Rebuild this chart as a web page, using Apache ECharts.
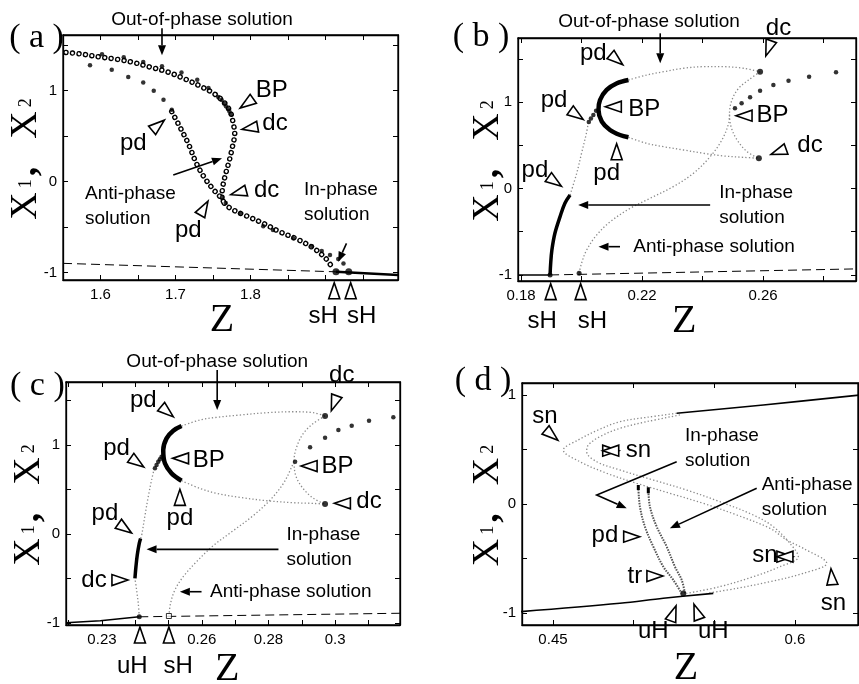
<!DOCTYPE html>
<html>
<head>
<meta charset="utf-8">
<script src="https://cdn.jsdelivr.net/npm/echarts@6.0.0/dist/echarts.min.js"></script>
<style>
html,body{margin:0;padding:0;background:#fff;}
#chart{width:859px;height:684px;}
</style>
</head>
<body>
<div id="chart"></div>
<script>
// ================= DATA (Z , X) =================
// ---- panel (a)
const aOutOfPhaseOpen = [[1.554,1.42],[1.577,1.40],[1.599,1.37],[1.622,1.345],[1.644,1.31],[1.666,1.26],[1.688,1.21],[1.711,1.135],[1.733,1.05],[1.751,0.97],[1.764,0.88],[1.773,0.77],[1.777,0.64],[1.779,0.53],[1.776,0.385],[1.772,0.24],[1.767,0.09],[1.763,-0.055],[1.762,-0.165],[1.766,-0.245],[1.777,-0.31],[1.795,-0.377],[1.817,-0.457],[1.839,-0.55],[1.862,-0.63],[1.884,-0.73],[1.9,-0.84],[1.908,-0.93]];
const aAntiPhaseOpen = [[1.695,0.77],[1.706,0.60],[1.717,0.42],[1.728,0.20],[1.739,0.04],[1.751,-0.09],[1.76,-0.17],[1.766,-0.245]];
const aDotsUpper = [[1.602,1.40],[1.631,1.367],[1.657,1.315],[1.682,1.27],[1.708,1.20],[1.729,1.12],[1.744,1.03],[1.757,0.93],[1.7616,0.898],[1.7647,0.86],[1.7673,0.83],[1.77,0.80],[1.7718,0.774],[1.7736,0.744]];
const aDotsToPd = [[1.586,1.28],[1.615,1.23],[1.637,1.15],[1.657,1.09],[1.671,1.0],[1.684,0.90],[1.695,0.79]];
const aDotsLower = [[1.762,-0.168],[1.767,-0.234],[1.786,-0.35],[1.817,-0.49],[1.83,-0.53],[1.857,-0.62],[1.882,-0.71],[1.895,-0.76],[1.906,-0.805],[1.917,-0.85],[1.924,-0.9]];
const aHopf = [[1.914,-0.99],[1.931,-0.99]];
const aBaseDashed = [[1.55,-0.897],[1.914,-0.99]];
const aBaseSolid = [[1.914,-0.99],[1.9967,-1.025]];
// ---- panel (b)
const bInPhaseStable = [[0.1896,-1.0],[0.1898,-0.865],[0.1902,-0.711],[0.1912,-0.518],[0.1929,-0.326],[0.1945,-0.171],[0.1962,-0.075]];
const bInPhaseUnstable = [[0.1962,-0.075],[0.1984,0.176],[0.2,0.407],[0.2016,0.638],[0.2022,0.754]];
const bPdDots = [[0.2024,0.77],[0.2031,0.81],[0.2039,0.85],[0.2048,0.90]];
const bBpArc = [[0.2155,1.254],[0.2117,1.216],[0.2083,1.139],[0.2061,1.023],[0.2056,0.908],[0.2067,0.773],[0.2094,0.676],[0.2127,0.618],[0.2155,0.592]];
const bUpperGrey = [[0.2155,1.254],[0.2215,1.312],[0.2271,1.35],[0.2337,1.39],[0.2403,1.408],[0.2469,1.408],[0.2535,1.39],[0.259,1.35]];
const bLowerGrey = [[0.2155,0.592],[0.2215,0.522],[0.2271,0.483],[0.2337,0.445],[0.2403,0.407],[0.2469,0.376],[0.2535,0.36],[0.2585,0.349]];
const bLoopGrey = [[0.259,1.35],[0.2552,1.254],[0.2519,1.158],[0.2497,1.023],[0.2489,0.869],[0.2494,0.715],[0.2514,0.561],[0.2547,0.426],[0.2585,0.349]];
const bRightDots = [[0.2507,0.927],[0.2529,0.985],[0.2557,1.054],[0.259,1.131],[0.2634,1.197],[0.2684,1.246],[0.2752,1.293],[0.2841,1.343]];
const bDcPoints = [[0.259,1.35],[0.2586,0.349]];
const bAntiGrey = [[0.1992,-0.98],[0.2,-0.865],[0.2017,-0.711],[0.205,-0.538],[0.2095,-0.384],[0.2161,-0.229],[0.2227,-0.113],[0.2303,0.021],[0.237,0.176],[0.2425,0.368],[0.2464,0.561],[0.2486,0.754],[0.2489,0.87]];
const bBaseSolid = [[0.179,-1.0],[0.1896,-1.0]];
const bBaseDashed = [[0.1896,-1.0],[0.2907,-0.93]];
const bHopf = [[0.1896,-1.0],[0.1992,-0.98]];
// ---- panel (c)
const cInPhaseStable = [[0.2399,-0.498],[0.2402,-0.368],[0.2406,-0.236],[0.2412,-0.105],[0.2416,-0.049]];
const cInPhaseLow = [[0.2412,-0.929],[0.2409,-0.779],[0.2404,-0.629],[0.2399,-0.498]];
const cInPhaseUp = [[0.2416,-0.049],[0.2419,-0.019],[0.2429,0.206],[0.2439,0.419],[0.2449,0.607],[0.2456,0.719]];
const cPdDots = [[0.2459,0.738],[0.2464,0.775],[0.2469,0.813],[0.2474,0.84],[0.2479,0.869]];
const cBpArc = [[0.2539,1.213],[0.2514,1.161],[0.2494,1.075],[0.2484,0.944],[0.2489,0.794],[0.2509,0.682],[0.2539,0.599]];
const cUpperGrey = [[0.2539,1.213],[0.2594,1.281],[0.2644,1.311],[0.2714,1.337],[0.2795,1.363],[0.2875,1.374],[0.2935,1.363],[0.297,1.326]];
const cLowerGrey = [[0.2539,0.599],[0.2594,0.513],[0.2644,0.457],[0.2714,0.412],[0.2795,0.374],[0.2875,0.352],[0.2935,0.344],[0.297,0.337]];
const cLoopGrey = [[0.297,1.326],[0.2935,1.244],[0.2905,1.131],[0.2885,0.981],[0.2877,0.831],[0.288,0.682],[0.29,0.531],[0.2935,0.401],[0.297,0.337]];
const cRightDots = [[0.288,0.813],[0.2925,0.974],[0.297,1.082],[0.301,1.169],[0.305,1.217],[0.3102,1.273],[0.3175,1.311]];
const cRightOpen = [[0.304,1.382],[0.3175,1.412]];
const cDcPoints = [[0.297,1.326],[0.297,0.337]];
const cAntiGrey = [[0.2501,-0.921],[0.2506,-0.779],[0.2519,-0.629],[0.2544,-0.479],[0.2584,-0.311],[0.2634,-0.131],[0.2694,0.037],[0.2754,0.206],[0.2805,0.382],[0.2845,0.569],[0.287,0.756],[0.2877,0.831]];
const cBaseSolid = [[0.2192,-0.997],[0.2295,-0.975],[0.2412,-0.93]];
const cBaseDashed = [[0.2412,-0.93],[0.3195,-0.89]];
const cHopfU = [[0.2412,-0.93]];
const cHopfS = [[0.2501,-0.921]];
// ---- panel (d)
const dLowerStable = [[0.4295,-0.988],[0.4915,-0.911],[0.5184,-0.865],[0.5494,-0.82]];
const dUpperStable = [[0.5267,0.832],[0.5804,0.908],[0.6403,1.0]];
const dOuterBranch = [[0.5267,0.832],[0.5081,0.795],[0.4915,0.755],[0.478,0.679],[0.4656,0.587],[0.4564,0.495],[0.4667,0.388],[0.4833,0.282],[0.5019,0.19],[0.5225,0.098],[0.5432,0.006],[0.5639,-0.101],[0.5845,-0.223],[0.5949,-0.33],[0.6052,-0.407],[0.6197,-0.544],[0.6052,-0.636],[0.5845,-0.713],[0.5639,-0.774],[0.5453,-0.82]];
const dInnerBranch = [[0.5287,0.817],[0.5081,0.755],[0.4915,0.694],[0.4791,0.618],[0.4719,0.541],[0.4709,0.48],[0.4771,0.388],[0.4915,0.312],[0.5122,0.22],[0.5329,0.128],[0.5535,0.021],[0.5742,-0.101],[0.5866,-0.208],[0.5969,-0.361],[0.6021,-0.483],[0.5907,-0.575],[0.5742,-0.667],[0.5535,-0.758],[0.5329,-0.82]];
const dInPhase = [[0.5029,0.159],[0.5039,-0.024],[0.507,-0.208],[0.5122,-0.391],[0.5184,-0.575],[0.5246,-0.697],[0.5298,-0.82]];
const dAntiPhase = [[0.5091,0.144],[0.5101,-0.024],[0.5143,-0.208],[0.5205,-0.391],[0.5256,-0.575],[0.5298,-0.697],[0.5318,-0.82]];
const dPdBarIn = [[0.5029,0.174],[0.5029,0.128]];
const dPdBarAnti = [[0.5091,0.153],[0.5091,0.098]];
const dHopf = [[0.5308,-0.82]];

// ---- tick values / tick labels
const aTickX = [1.55,1.6,1.65,1.7,1.75,1.8,1.85,1.9,1.95];
const aLabelX = [1.6,1.7,1.8];
const bTickX = [0.18,0.2,0.22,0.24,0.26,0.28];
const bLabelX = [0.18,0.22,0.26];
const cTickX = [0.22,0.23,0.24,0.25,0.26,0.27,0.28,0.29,0.3,0.31];
const cLabelX = [0.23,0.26,0.28,0.3];
const dTickX = [0.45,0.5,0.55,0.6];
const dLabelX = [0.45,0.6];
const yTickABC = [-1,-0.5,0,0.5,1,1.5];
const yTickD = [-1,-0.5,0,0.5,1];
const yLabelAll = [-1,0,1];

// ---- annotations: [text, Z, X, kind, align]
const aTexts = [['Out-of-phase solution',1.7353,1.777,'m'],['BP',1.8283,1.0,'L'],['dc',1.8327,0.642,'L'],['pd',1.6437,0.42,'L'],['dc',1.8216,-0.091,'L'],['pd',1.7171,-0.531,'L'],['Anti-phase\nsolution',1.5793,-0.265,'m','left'],['In-phase\nsolution',1.8713,-0.229,'m','left'],['sH',1.897,-1.484,'L'],['sH',1.9483,-1.484,'L'],['Z',1.762,-1.52,'Z'],['( a )',1.5147,1.574,'P']];
const bTexts = [['Out-of-phase solution',0.2223,1.928,'m'],['dc',0.2651,1.852,'L'],['pd',0.2039,1.563,'L'],['BP',0.2207,0.91,'L'],['pd',0.1909,1.023,'L'],['BP',0.2631,0.85,'L'],['dc',0.2755,0.503,'L'],['pd',0.2083,0.176,'L'],['pd',0.1846,0.206,'L'],['In-phase\nsolution',0.2455,-0.191,'m','left'],['Anti-phase solution',0.2438,-0.673,'m'],['sH',0.187,-1.54,'L'],['sH',0.2036,-1.54,'L'],['Z',0.2339,-1.54,'Z'],['( b )',0.1668,1.746,'P']];
const cTexts = [['Out-of-phase solution',0.2646,1.936,'m'],['dc',0.302,1.787,'L'],['pd',0.2424,1.506,'L'],['BP',0.2621,0.831,'L'],['pd',0.2344,0.963,'L'],['BP',0.3007,0.756,'L'],['dc',0.3102,0.363,'L'],['pd',0.2534,0.176,'L'],['pd',0.2309,0.233,'L'],['dc',0.2276,-0.517,'L'],['In-phase\nsolution',0.2854,-0.149,'m','left'],['Anti-phase solution',0.2867,-0.648,'m'],['uH',0.2391,-1.49,'L'],['sH',0.2529,-1.49,'L'],['Z',0.2676,-1.517,'Z'],['( c )',0.2106,1.663,'P']];
const dTexts = [['sn',0.445,0.801,'L'],['sn',0.5029,0.489,'L'],['In-phase\nsolution',0.5318,0.511,'m','left'],['Anti-phase\nsolution',0.5794,0.06,'m','left'],['pd',0.4822,-0.284,'L'],['tr',0.5008,-0.667,'L'],['sn',0.5814,-0.468,'L'],['sn',0.6238,-0.911,'L'],['uH',0.5122,-1.17,'L'],['uH',0.5494,-1.17,'L'],['Z',0.5325,-1.507,'Z'],['( d )',0.4066,1.128,'P']];
// triangles: [Z, X, direction of apex in degrees]
const aTris = [[1.795,0.86,215],[1.799,0.59,190],[1.677,0.62,40],[1.784,-0.12,195],[1.738,-0.29,60],[1.9117,-1.198,90],[1.9336,-1.198,90]];
const bTris = [[0.2618,1.62,250],[0.2116,1.49,-40],[0.2105,0.946,180],[0.1984,0.85,-35],[0.2537,0.842,180],[0.2651,0.425,200],[0.2116,0.425,90],[0.1912,0.079,-35],[0.1898,-1.193,90],[0.1997,-1.193,90]];
const cTris = [[0.2997,1.469,250],[0.2496,1.374,-40],[0.2536,0.85,180],[0.2406,0.805,-35],[0.2922,0.764,180],[0.3022,0.345,180],[0.2534,0.412,90],[0.2369,0.064,-35],[0.2354,-0.517,0],[0.2414,-1.135,90],[0.2501,-1.135,90]];
const dTris = [[0.4492,0.633,-40],[0.4858,0.489,0],[0.4858,0.489,180],[0.5938,-0.483,0],[0.5938,-0.483,180],[0.6228,-0.667,95],[0.4988,-0.3,0],[0.5132,-0.661,0],[0.5246,-1.003,70],[0.5391,-0.988,110]];
// arrows: list of [Z, X] from tail to head
const aArrows = [[[1.682,1.686],[1.682,1.39]],[[1.697,0.074],[1.762,0.257]],[[1.928,-0.677],[1.917,-0.88]]];
const bArrows = [[[0.226,1.794],[0.226,1.447]],[[0.2425,-0.191],[0.1989,-0.191]],[[0.2127,-0.673],[0.2056,-0.673]]];
const cArrows = [[[0.2646,1.843],[0.2646,1.393]],[[0.283,-0.172],[0.2434,-0.172]],[[0.2599,-0.648],[0.2534,-0.648]]];
const dArrows = [[[0.5267,0.388],[0.4771,0.083],[0.4957,-0.04]],[[0.5763,0.144],[0.5225,-0.223]]];

// ================= LAYOUT =================
const SANS = 'Liberation Sans, Arial, Helvetica, sans-serif';
const SERIF = 'Liberation Serif, Times New Roman, serif';
const layout = [
  {left:63, top:35, width:335, height:245, xMin:1.55, xMax:1.9967, yMin:-1.08, yMax:1.612, xt:aTickX, xl:aLabelX, yt:yTickABC, gap:18},
  {left:518, top:38, width:338, height:243, xMin:0.179, xMax:0.2907, yMin:-1.07, yMax:1.74, xt:bTickX, xl:bLabelX, yt:yTickABC, gap:11},
  {left:66, top:382, width:334, height:243, xMin:0.2192, xMax:0.3195, yMin:-1.022, yMax:1.708, xt:cTickX, xl:cLabelX, yt:yTickABC, gap:18},
  {left:522, top:383, width:336, height:242, xMin:0.4308, xMax:0.6391, yMin:-1.11, yMax:1.11, xt:dTickX, xl:dLabelX, yt:yTickD, gap:15}
];

const chart = echarts.init(document.getElementById('chart'), null, {renderer:'canvas'});

const grids = [], xAxes = [], yAxes = [];
const AXLINE = {show:true, onZero:false, lineStyle:{color:'#000', width:1.3}};
layout.forEach((L, g) => {
  grids.push({left:L.left, top:L.top, width:L.width, height:L.height, show:true, borderColor:'#000', borderWidth:1.3, backgroundColor:'transparent'});
  xAxes.push({type:'value', gridIndex:g, position:'bottom', min:L.xMin, max:L.xMax, axisLine:AXLINE,
    axisTick:{show:true, inside:true, length:5, customValues:L.xt, lineStyle:{color:'#000', width:1}},
    axisLabel:{show:true, customValues:L.xl, color:'#000', fontSize:15, fontFamily:SANS, margin:7},
    splitLine:{show:false}});
});
layout.forEach((L, g) => {
  xAxes.push({type:'value', gridIndex:g, position:'top', min:L.xMin, max:L.xMax, axisLine:AXLINE,
    axisTick:{show:true, inside:true, length:5, customValues:L.xt, lineStyle:{color:'#000', width:1}},
    axisLabel:{show:false}, splitLine:{show:false}});
});
layout.forEach((L, g) => {
  yAxes.push({type:'value', gridIndex:g, position:'left', min:L.yMin, max:L.yMax, axisLine:AXLINE,
    axisTick:{show:true, inside:true, length:5, customValues:L.yt, lineStyle:{color:'#000', width:1}},
    axisLabel:{show:true, customValues:yLabelAll, color:'#000', fontSize:15, fontFamily:SANS, margin:6},
    splitLine:{show:false},
    name:'{x|X}{s|1}{c|,}{g| }{x|X}{s|2}', nameLocation:'middle', nameRotate:90, nameGap:L.gap,
    nameMoveOverlap:false,
    nameTextStyle:{rich:{
      x:{fontFamily:SERIF, fontSize:38, color:'#000'},
      s:{fontFamily:SERIF, fontSize:18, color:'#000', padding:[0,3,0,4]},
      c:{fontFamily:SERIF, fontSize:38, fontWeight:'bold', color:'#000'},
      g:{width:28}
    }}});
});
layout.forEach((L, g) => {
  yAxes.push({type:'value', gridIndex:g, position:'right', min:L.yMin, max:L.yMax, axisLine:AXLINE,
    axisTick:{show:true, inside:true, length:5, customValues:L.yt, lineStyle:{color:'#000', width:1}},
    axisLabel:{show:false}, splitLine:{show:false}});
});

const series = [];
function line(g, data, color, width, dash, z, smooth, cap) {
  series.push({type:'line', xAxisIndex:g, yAxisIndex:g, data:data, symbol:'none', showSymbol:false,
    smooth: smooth === undefined ? 0.35 : smooth, silent:true, z:z||2,
    lineStyle:{color:color, width:width, type:dash||'solid', cap:cap||'butt', join:'round'}});
}
function dots(g, data, symbol, size, color, z) {
  series.push({type:'scatter', xAxisIndex:g, yAxisIndex:g, data:data, symbol:symbol, symbolSize:size, silent:true, z:z||3,
    itemStyle: symbol === 'emptyCircle' || symbol === 'rect'
      ? {color:'#fff', borderColor:color, borderWidth:1}
      : {color:color}});
}
const GREY = '#8a8a8a', GDASH = [1.3,2.2];
const RING = [0.01,6.5];
// (a)
line(0, aBaseDashed, '#000', 1, [9,5], 1, false);
line(0, aBaseSolid, '#000', 2.5, 'solid', 1, false);
line(0, aOutOfPhaseOpen, '#000', 5.5, RING, 2, 0.35, 'round');
line(0, aOutOfPhaseOpen, '#fff', 2.8, RING, 3, 0.35, 'round');
line(0, aAntiPhaseOpen, '#000', 5.5, RING, 2, 0.35, 'round');
line(0, aAntiPhaseOpen, '#fff', 2.8, RING, 3, 0.35, 'round');
dots(0, aDotsUpper, 'circle', 4.5, '#000', 4);
dots(0, aDotsToPd, 'circle', 4.5, '#000', 4);
dots(0, aDotsLower, 'circle', 4.5, '#000', 4);
dots(0, aHopf, 'circle', 7, '#000', 5);
// (b)
line(1, bBaseSolid, '#000', 1.5, 'solid', 1, false);
line(1, bBaseDashed, '#000', 1, [9,5], 1, false);
line(1, bInPhaseStable, '#000', 3.5, 'solid', 3);
line(1, bInPhaseUnstable, GREY, 1.3, GDASH, 2);
line(1, bBpArc, '#000', 4.5, 'solid', 3);
line(1, bUpperGrey, GREY, 1.3, GDASH, 2);
line(1, bLowerGrey, GREY, 1.3, GDASH, 2);
line(1, bLoopGrey, GREY, 1.3, GDASH, 2);
line(1, bAntiGrey, GREY, 1.3, GDASH, 2);
dots(1, bPdDots, 'circle', 4.5, '#000', 4);
dots(1, bRightDots, 'circle', 4.5, '#000', 4);
dots(1, bDcPoints, 'circle', 6, '#000', 4);
dots(1, bHopf, 'circle', 5, '#000', 4);
// (c)
line(2, cBaseSolid, '#000', 1.5, 'solid', 1, false);
line(2, cBaseDashed, '#000', 1, [9,5], 1, false);
line(2, cInPhaseStable, '#000', 3.5, 'solid', 3);
line(2, cInPhaseLow, GREY, 1.3, GDASH, 2);
line(2, cInPhaseUp, GREY, 1.3, GDASH, 2);
line(2, cBpArc, '#000', 4.5, 'solid', 3);
line(2, cUpperGrey, GREY, 1.3, GDASH, 2);
line(2, cLowerGrey, GREY, 1.3, GDASH, 2);
line(2, cLoopGrey, GREY, 1.3, GDASH, 2);
line(2, cAntiGrey, GREY, 1.3, GDASH, 2);
dots(2, cPdDots, 'circle', 4.5, '#000', 4);
dots(2, cRightDots, 'circle', 4.5, '#000', 4);
dots(2, cRightOpen, 'emptyCircle', 4, '#777', 4);
dots(2, cDcPoints, 'circle', 6, '#000', 4);
dots(2, cHopfU, 'circle', 5, '#000', 4);
dots(2, cHopfS, 'rect', 5, '#000', 4);
// (d)
line(3, dOuterBranch, GREY, 1.3, GDASH, 2);
line(3, dInnerBranch, GREY, 1.3, GDASH, 2);
line(3, dLowerStable, '#000', 1.6, 'solid', 3);
line(3, dUpperStable, '#000', 1.6, 'solid', 3);
line(3, dInPhase, '#555', 2, [1.5,1.2], 3);
line(3, dAntiPhase, '#555', 2, [1.5,1.2], 3);
line(3, dPdBarIn, '#000', 3, 'solid', 4, false);
line(3, dPdBarAnti, '#000', 3, 'solid', 4, false);
dots(3, dHopf, 'circle', 6, '#000', 5);

chart.setOption({animation:false, backgroundColor:'#fff', grid:grids, xAxis:xAxes, yAxis:yAxes, series:series});

// ================= ANNOTATIONS (placed through the axes) =================
const FONT = {m:{size:19, fam:SANS, lh:25}, L:{size:24, fam:SANS}, Z:{size:40, fam:SERIF}, P:{size:34, fam:SERIF}};
function P(g, z, x) { return chart.convertToPixel({xAxisIndex:g, yAxisIndex:g}, [z, x]); }
function triangle(p, ang) {
  const Ln = 16, B = 11, r = ang * Math.PI / 180;
  const dx = Math.cos(r), dy = -Math.sin(r), nx = -dy, ny = dx;
  return {type:'polygon', silent:true, z:100,
    shape:{points:[[p[0]+dx*Ln/2, p[1]+dy*Ln/2],
                   [p[0]-dx*Ln/2+nx*B/2, p[1]-dy*Ln/2+ny*B/2],
                   [p[0]-dx*Ln/2-nx*B/2, p[1]-dy*Ln/2-ny*B/2]]},
    style:{fill:'#fff', stroke:'#000', lineWidth:1.6, lineJoin:'miter'}};
}
function arrow(pts) {
  const n = pts.length, h = pts[n-1], t = pts[n-2];
  const dx = h[0]-t[0], dy = h[1]-t[1], len = Math.hypot(dx, dy);
  const ux = dx/len, uy = dy/len, HL = 10, HW = 4;
  const base = [h[0]-ux*HL, h[1]-uy*HL];
  return [
    {type:'polyline', silent:true, z:100, shape:{points:pts.slice(0, n-1).concat([base])}, style:{stroke:'#000', lineWidth:1.6, fill:null}},
    {type:'polygon', silent:true, z:100, shape:{points:[h, [base[0]-uy*HW, base[1]+ux*HW], [base[0]+uy*HW, base[1]-ux*HW]]}, style:{fill:'#000'}}
  ];
}
const els = [];
[[aTexts,aTris,aArrows],[bTexts,bTris,bArrows],[cTexts,cTris,cArrows],[dTexts,dTris,dArrows]].forEach((set, g) => {
  set[0].forEach(t => {
    const p = P(g, t[1], t[2]), f = FONT[t[3]];
    els.push({type:'text', x:p[0], y:p[1], silent:true, z:100,
      style:{text:t[0], fontSize:f.size, fontFamily:f.fam, fill:'#000', align:t[4]||'center', verticalAlign:'middle', lineHeight:f.lh}});
  });
  set[1].forEach(t => els.push(triangle(P(g, t[0], t[1]), t[2])));
  set[2].forEach(a => els.push(...arrow(a.map(q => P(g, q[0], q[1])))));
});
chart.setOption({graphic:{elements:els}});
</script>
</body>
</html>
